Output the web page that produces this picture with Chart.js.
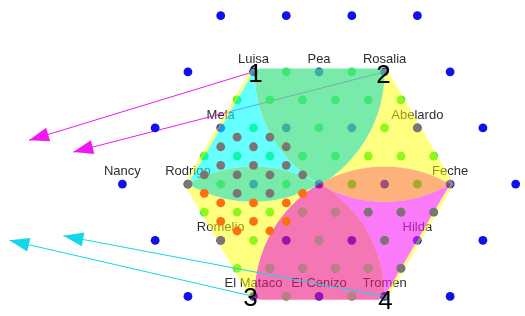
<!DOCTYPE html>
<html><head><meta charset="utf-8">
<script src="https://cdn.jsdelivr.net/npm/chart.js@4/dist/chart.umd.min.js"></script>
<style>html,body{margin:0;padding:0;background:#fff;}#wrap{width:525px;height:316px;position:relative;}</style>
</head><body><div id="wrap"><canvas id="c"></canvas></div>
<script>
// Coordinates: x in half-lattice units, y in row index (row height = sqrt(3)/2 half units)
const outerPoints = [
  [-3,6],[-1,6],[1,6],[3,6],
  [-4,4],[-2,4],[0,4],[2,4],[4,4],
  [-5,2],[-3,2],[-1,2],[1,2],[3,2],[5,2],
  [-6,0],[-4,0],[-2,0],[0,0],[2,0],[4,0],[6,0],
  [-5,-2],[-3,-2],[-1,-2],[1,-2],[3,-2],[5,-2],
  [-4,-4],[-2,-4],[0,-4],[2,-4],[4,-4]
];
const greenPoints = [
  [-1,4],[1,4],
  [-2.5,3],[-1.5,3],[-0.5,3],[0.5,3],[1.5,3],[2.5,3],
  [-2,2],[0,2],[2,2],
  [-3.5,1],[-2.5,1],[-1.5,1],[-0.5,1],[0.5,1],[1.5,1],[2.5,1],[3.5,1],
  [-3,0],[-1,0],[1,0],[3,0],
  [-3.5,-1],[-2.5,-1],[-1.5,-1],[-0.5,-1],[0.5,-1],[1.5,-1],[2.5,-1],[3.5,-1],
  [-2,-2],[0,-2],[2,-2],
  [-2.5,-3],[-1.5,-3],[-0.5,-3],[0.5,-3],[1.5,-3],[2.5,-3],
  [-1,-4],[1,-4]
];
const greyPoints = [
  [-4,0],[3,2],[-3,-2],
  [1.5,-1],[2.5,-1],[3.5,-1],[2,-2],[2.5,-3],
  [-2.5,1.67],[-1.5,1.67],[-3,1.33],[-2,1.33],[-1,1.33],
  [-3,0.67],[-2,0.67],[-1,0.67],[-3.5,0.33],[-2.5,0.33],[-1.5,0.33],[-0.5,0.33],
  [-2.5,-0.33],[-1.5,-0.33]
];
const greyPinkPoints = [
  [-0.5,-1],[0.5,-1],[0,-2],[-1.5,-3],[-0.5,-3],[0.5,-3],[1.5,-3],[-1,-4],[1,-4]
];
const orangePoints = [
  [-3.5,-0.33],[-0.5,-0.33],[-3,-0.67],[-2,-0.67],[-1,-0.67],
  [-3,-1.33],[-2,-1.33],[-1,-1.33],[-2.5,-1.67],[-1.5,-1.67]
];
const labelNames = ['Luisa','Pea','Rosalia','Mela','Abelardo','Nancy','Rodrigo','Feche','Romelio','Hilda','El Mataco','El Cenizo','Tromen'];
const labelPoints = [[-2,4],[0,4],[2,4],[-3,2],[3,2],[-6,0],[-4,0],[4,0],[-3,-2],[3,-2],[-2,-4],[0,-4],[2,-4]];
const vertexNames = ['1','2','3','4'];
const vertexPoints = [[-2,4],[2,4],[-2,-4],[2,-4]];
const hexCenter = [0,0];
const hexVertices = [[-2,4],[2,4],[4,0],[2,-4],[-2,-4],[-4,0]]; // L, R, F, T, M, D
const magentaArrowFrom = [[-2,4],[2,4]];
const magentaArrowTo = [[-8.85,1.56],[-7.5,1.14]];
const cyanArrowFrom = [[-2,-4],[2,-4]];
const cyanArrowTo = [[-9.45,-2.0],[-7.8,-1.84]];

const toXY = arr => arr.map(p => ({x: p[0], y: p[1]}));

function P(chart, p){ return {x: chart.scales.x.getPixelForValue(p[0]), y: chart.scales.y.getPixelForValue(p[1])}; }
function arcPath(ctx, c, p0, p1){
  const r = Math.hypot(p0.x-c.x, p0.y-c.y);
  const a0 = Math.atan2(p0.y-c.y, p0.x-c.x);
  const a1 = Math.atan2(p1.y-c.y, p1.x-c.x);
  let d = a1 - a0;
  while (d > Math.PI) d -= 2*Math.PI;
  while (d <= -Math.PI) d += 2*Math.PI;
  ctx.arc(c.x, c.y, r, a0, a1, d < 0);
}
function arrow(ctx, a, b, color){
  ctx.save();
  ctx.strokeStyle = color; ctx.fillStyle = color; ctx.lineWidth = 1;
  ctx.beginPath(); ctx.moveTo(a.x, a.y); ctx.lineTo(b.x, b.y); ctx.stroke();
  const dx = b.x-a.x, dy = b.y-a.y, len = Math.hypot(dx,dy);
  const ux = dx/len, uy = dy/len, hl = 20, hw = 7;
  const bx = b.x - ux*hl, by = b.y - uy*hl;
  ctx.beginPath(); ctx.moveTo(b.x, b.y);
  ctx.lineTo(bx - uy*hw, by + ux*hw); ctx.lineTo(bx + uy*hw, by - ux*hw);
  ctx.closePath(); ctx.fill();
  ctx.restore();
}

const decor = {
  id: 'decor',
  beforeDatasetsDraw(chart){
    const ctx = chart.ctx;
    ctx.save();
    ctx.font = "13px 'Liberation Sans', Arial, sans-serif";
    ctx.fillStyle = '#2e2e2e'; ctx.textAlign = 'center'; ctx.textBaseline = 'alphabetic';
    labelNames.forEach((n,i) => { const p = P(chart, labelPoints[i]); ctx.fillText(n, p.x, p.y - 9); });
    ctx.restore();
    magentaArrowFrom.forEach((f,i) => arrow(ctx, P(chart,f), P(chart,magentaArrowTo[i]), '#f018f0'));
  },
  afterDatasetDraw(chart, args){
    if (chart.data.datasets[args.index].label !== 'green') return;
    const W = chart.canvas.width, H = chart.canvas.height, dpr = chart.currentDevicePixelRatio || 1;
    const off = document.createElement('canvas'); off.width = W; off.height = H;
    const o = off.getContext('2d'); o.setTransform(dpr,0,0,dpr,0,0);
    const C = P(chart, hexCenter);
    const [L,R,F,T,M,D] = hexVertices.map(v => P(chart, v));
    const hexPath = (ctx, s) => { ctx.beginPath(); [L,R,F,T,M,D].forEach((v,i)=>{ const x=C.x+(v.x-C.x)*s, y=C.y+(v.y-C.y)*s; i?ctx.lineTo(x,y):ctx.moveTo(x,y); }); ctx.closePath(); };
    const regions = [
      ['rgba(255,255,0,0.5)', ctx => hexPath(ctx, 1.03)],
      ['rgba(0,255,255,0.6)', ctx => { ctx.beginPath(); ctx.moveTo(L.x,L.y); ctx.lineTo(D.x,D.y); ctx.lineTo(C.x,C.y); ctx.closePath(); }],
      ['rgba(247,33,247,0.6)', ctx => { ctx.beginPath(); ctx.moveTo(C.x,C.y); ctx.lineTo(F.x,F.y); ctx.lineTo(T.x,T.y); ctx.closePath(); }],
      ['rgba(75,228,142,0.75)', ctx => { ctx.beginPath(); ctx.moveTo(L.x,L.y); arcPath(ctx,C,L,R); arcPath(ctx,L,R,C); arcPath(ctx,R,C,L); ctx.closePath(); }],
      ['rgba(75,228,142,0.75)', ctx => { ctx.beginPath(); ctx.moveTo(C.x,C.y); arcPath(ctx,L,C,D); arcPath(ctx,M,D,C); ctx.closePath(); }],
      ['rgba(250,127,34,0.6)', ctx => { ctx.beginPath(); ctx.moveTo(C.x,C.y); arcPath(ctx,R,C,F); arcPath(ctx,T,F,C); ctx.closePath(); }],
      ['rgba(238,27,130,0.6)', ctx => { ctx.beginPath(); ctx.moveTo(M.x,M.y); arcPath(ctx,C,M,T); arcPath(ctx,M,T,C); arcPath(ctx,T,C,M); ctx.closePath(); }]
    ];
    regions.forEach(([col, path]) => {
      o.save();
      hexPath(o, 1.03); o.clip();
      path(o);
      o.globalCompositeOperation = 'destination-out'; o.fillStyle = '#000'; o.fill();
      o.globalCompositeOperation = 'source-over'; o.fillStyle = col; o.fill();
      o.restore();
    });
    const ctx = chart.ctx;
    ctx.save(); ctx.setTransform(1,0,0,1,0,0); ctx.drawImage(off, 0, 0); ctx.restore();
  },
  afterDatasetsDraw(chart){
    const ctx = chart.ctx;
    cyanArrowFrom.forEach((f,i) => arrow(ctx, P(chart,f), P(chart,cyanArrowTo[i]), '#12d6ea'));
    ctx.save();
    ctx.font = "26px 'Liberation Sans', Arial, sans-serif";
    ctx.fillStyle = '#000'; ctx.textAlign = 'center'; ctx.textBaseline = 'middle';
    const offs = [[2,3],[-1,4],[-3,2],[1,5]];
    vertexNames.forEach((n,i) => { const p = P(chart, vertexPoints[i]); ctx.fillText(n, p.x+offs[i][0], p.y+offs[i][1]); });
    ctx.restore();
  }
};

const pt = (label, data, color, order) => ({label, data: toXY(data), backgroundColor: color, borderWidth: 0, pointRadius: 4.4, pointHoverRadius: 4.4, order});

new Chart(document.getElementById('c'), {
  type: 'scatter',
  data: { datasets: [
    pt('orange', orangePoints, 'rgb(252,112,18)', 1),
    pt('grey', greyPoints, 'rgb(125,117,117)', 2),
    pt('greyPink', greyPinkPoints, 'rgb(186,128,136)', 3),
    pt('green', greenPoints, 'rgb(30,240,50)', 4),
    pt('blue', outerPoints, 'rgb(16,16,235)', 5)
  ]},
  options: {
    responsive: true, maintainAspectRatio: false, animation: false, events: [],
    layout: { padding: 0 },
    plugins: { legend: { display: false }, tooltip: { enabled: false } },
    scales: {
      x: { type: 'linear', min: -9.6, max: 6.15, display: false },
      y: { type: 'linear', min: -4.54, max: 6.4, display: false }
    }
  },
  plugins: [decor]
});
</script></body></html>
